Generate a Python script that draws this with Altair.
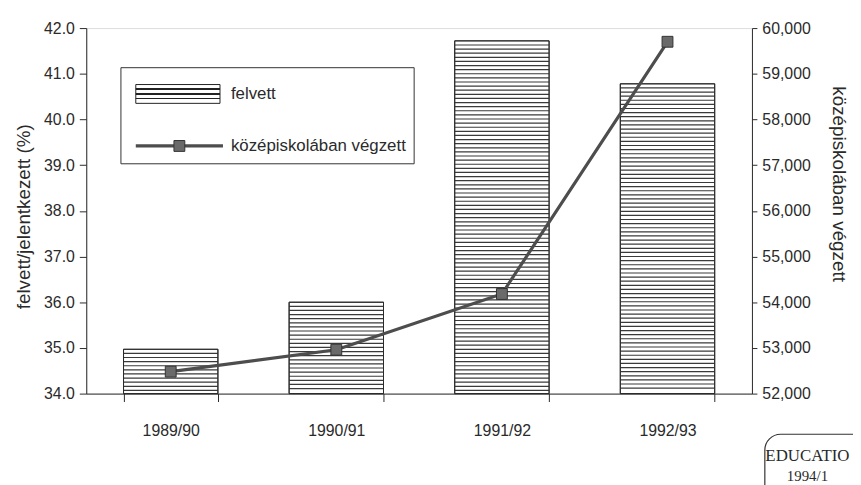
import altair as alt
import pandas as pd
import numpy as np

# ---- data ----
years = ["1989/90", "1990/91", "1991/92", "1992/93"]
felvett = [34.97, 36.0, 41.72, 40.78]              # felvett/jelentkezett (%)
vegzett = [52480, 52960, 54180, 59700]             # középiskolában végzett
left_ticks = [34.0, 35.0, 36.0, 37.0, 38.0, 39.0, 40.0, 41.0, 42.0]
right_ticks = [52000, 53000, 54000, 55000, 56000, 57000, 58000, 59000, 60000]

FONT = "Liberation Sans"
INK = "#2a2a2a"

df = pd.DataFrame({"year": years, "felvett": felvett, "vegzett": vegzett})

# horizontal hatching of the bars, derived from the bar values
STEP = 0.09
HALF = 0.013
rows = []
for y, v in zip(years, felvett):
    s = v - STEP
    while s > 34.0 + 0.03:
        rows.append({"year": y, "lo": s - HALF, "hi": s + HALF})
        s -= STEP
stripes = pd.DataFrame(rows)

W, H = 672, 369

xscale = alt.Scale(domain=years, paddingInner=0.43, paddingOuter=0.225)
xaxis = alt.Axis(title=None, labelAngle=0, tickBand="extent", tickSize=8,
                 labelPadding=21, labelFontSize=16, domainColor=INK,
                 tickColor=INK, labelColor=INK, grid=False)
yscale_left = alt.Scale(domain=[34, 42], nice=False, zero=False)
yaxis_left = alt.Axis(title="felvett/jelentkezett (%)", format=".1f", values=left_ticks,
                      tickSize=7, labelPadding=5, grid=False, domainColor=INK,
                      tickColor=INK, labelColor=INK, labelFontSize=16,
                      titleFontSize=19, titleFontWeight="normal", titlePadding=10,
                      titleColor=INK, titleY=190)

bars = alt.Chart(df).mark_bar(fill="white", stroke=INK, strokeWidth=1).encode(
    x=alt.X("year:N", scale=xscale, sort=years, axis=xaxis),
    y=alt.Y("felvett:Q", scale=yscale_left, axis=yaxis_left),
    y2=alt.Y2(datum=34),
)

hatch = alt.Chart(stripes).mark_bar(color="#3a3a3a").encode(
    x=alt.X("year:N", scale=xscale, sort=years, axis=xaxis),
    y=alt.Y("lo:Q", scale=yscale_left, axis=yaxis_left),
    y2="hi:Q",
)

outline = alt.Chart(df).mark_bar(fill=None, stroke=INK, strokeWidth=1).encode(
    x=alt.X("year:N", scale=xscale, sort=years, axis=xaxis),
    y=alt.Y("felvett:Q", scale=yscale_left, axis=yaxis_left),
    y2=alt.Y2(datum=34),
)

# ---- legend box (annotation) ----
one = pd.DataFrame({"k": [0]})
base = alt.Chart(one)
leg_box = base.mark_rect(fill="white", stroke="#333", strokeWidth=1).encode(
    x=alt.value(35), x2=alt.value(331), y=alt.value(40), y2=alt.value(137))
stops = [alt.GradientStop(offset=0.0, color="white")]
for c in (0.25, 0.5, 0.75):
    stops += [alt.GradientStop(offset=c - 0.04, color="white"),
              alt.GradientStop(offset=c - 0.04, color="#222"),
              alt.GradientStop(offset=c + 0.04, color="#222"),
              alt.GradientStop(offset=c + 0.04, color="white")]
stops.append(alt.GradientStop(offset=1.0, color="white"))
leg_swatch = base.mark_rect(
    fill=alt.LinearGradient(gradient="linear", stops=stops, x1=0, x2=0, y1=0, y2=1),
    stroke="#222", strokeWidth=1).encode(
    x=alt.value(50), x2=alt.value(135), y=alt.value(57), y2=alt.value(76))
leg_line = base.mark_rule(color="#4d4d4d", strokeWidth=3.2).encode(
    x=alt.value(50), x2=alt.value(138), y=alt.value(119))
leg_sq = base.mark_point(shape="square", size=120, filled=True, fill="#6a6a6a",
                         stroke="#333", strokeWidth=1, opacity=1).encode(
    x=alt.value(94), y=alt.value(119))
leg_t1 = base.mark_text(align="left", baseline="middle", font=FONT, fontSize=17,
                        color=INK).encode(x=alt.value(146), y=alt.value(67),
                                          text=alt.value("felvett"))
leg_t2 = base.mark_text(align="left", baseline="middle", font=FONT, fontSize=17,
                        color=INK).encode(x=alt.value(146), y=alt.value(119),
                                          text=alt.value("középiskolában végzett"))

# ---- source stamp ----
stamp_box = base.mark_rect(fill=None, stroke="#333", strokeWidth=1.2, cornerRadius=16).encode(
    x=alt.value(685), x2=alt.value(830), y=alt.value(410), y2=alt.value(480))
stamp_t1 = base.mark_text(align="center", baseline="middle", font="Liberation Serif",
                          fontSize=17, color=INK).encode(
    x=alt.value(728), y=alt.value(432), text=alt.value("EDUCATIO"))
stamp_t2 = base.mark_text(align="center", baseline="middle", font="Liberation Serif",
                          fontSize=15, color=INK).encode(
    x=alt.value(728), y=alt.value(452), text=alt.value("1994/1"))

left_layer = alt.layer(bars, hatch, outline, leg_box, leg_swatch, leg_line, leg_sq,
                       leg_t1, leg_t2, stamp_box, stamp_t1, stamp_t2)

yscale_right = alt.Scale(domain=[52000, 60000], nice=False, zero=False)
yaxis_right = alt.Axis(title="középiskolában végzett", orient="right", format=",d",
                       values=right_ticks, tickSize=5, labelPadding=5, grid=False,
                       domainColor=INK, tickColor=INK, labelColor=INK,
                       labelFontSize=16, titleFontSize=19, titleFontWeight="normal",
                       titlePadding=18, titleColor=INK, titleY=157)
line = alt.Chart(df).mark_line(color="#4d4d4d", strokeWidth=3.2).encode(
    x=alt.X("year:N", scale=xscale, sort=years, axis=xaxis),
    y=alt.Y("vegzett:Q", scale=yscale_right, axis=yaxis_right),
)
pts = alt.Chart(df).mark_point(shape="square", size=120, filled=True, fill="#6a6a6a",
                               stroke="#333333", strokeWidth=1, opacity=1).encode(
    x=alt.X("year:N", scale=xscale, sort=years, axis=xaxis),
    y=alt.Y("vegzett:Q", scale=yscale_right, axis=yaxis_right),
)
right_layer = alt.layer(line, pts)

chart = alt.layer(left_layer, right_layer).resolve_scale(y="independent").properties(
    width=W, height=H,
    padding={"left": 79, "top": 18, "right": 102, "bottom": 90},
    autosize=alt.AutoSizeParams(type="none"),
).configure_view(stroke=None).configure_axis(
    labelFont=FONT, titleFont=FONT
).configure(background="white")

chart.save("out.html", embed_options={"renderer": "svg", "actions": False})
